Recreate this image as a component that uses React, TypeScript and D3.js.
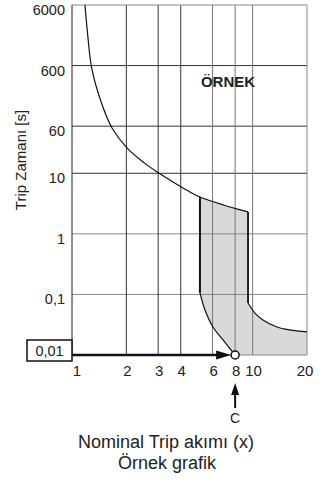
import React from "react";
import * as d3 from "d3";

const xTicks = [1, 2, 3, 4, 6, 8, 10, 20];
const xTickLabels = ["1", "2", "3", "4", "6", "8", "10", "20"];
const yTicks = [6000, 600, 60, 10, 1, 0.1, 0.01];
const yTickLabels = ["6000", "600", "60", "10", "1", "0,1", "0,01"];

// main (upper) trip curve
const mainX = [1.18, 1.22, 1.285, 1.45, 1.665, 2.02, 2.5, 2.96, 3.27, 3.86, 4.5, 5.11, 6.9, 9.43];
const mainT = [6000, 2000, 550, 150, 56, 26, 15, 10.5, 8.7, 6.4, 4.9, 4.06, 3.0, 2.3];

// lower-left (minimum) boundary of the band
const minX = [5.11, 5.11, 5.45, 6.03, 6.86, 8];
const minT = [4.06, 0.106, 0.0553, 0.029, 0.0177, 0.01];

// right (maximum) boundary of the band
const maxX = [9.43, 9.43, 10.3, 11.4, 13.65, 16.1, 20];
const maxT = [2.3, 0.0722, 0.0493, 0.0378, 0.029, 0.0259, 0.024];

const markX = 8;
const markT = 0.01;

const W = 331;
const H = 482;
const FONT = "'Liberation Sans', Arial, Helvetica, sans-serif";

export default function App() {
  const x = d3.scaleLog().domain([1, 20]).range([72, 307]);
  const y = d3.scaleLog().domain([0.01, 6000]).range([355, 5]);

  const pts = (xs: number[], ts: number[]) => xs.map((v, i) => [x(v), y(ts[i])] as [number, number]);
  const smooth = d3.line().curve(d3.curveCatmullRom.alpha(0.5));
  const straight = d3.line();

  const main = pts(mainX, mainT);
  const minPts = pts(minX, minT);
  const maxPts = pts(maxX, maxT);

  const topSeg = main.filter((p) => p[0] >= x(minX[0]) - 0.01);
  const minCurve = minPts.slice(1);
  const maxCurve = maxPts.slice(1);

  const asL = (s: string | null) => (s || "").replace(/^M/, "L");
  const x0 = x(1), x1 = x(20), yb = y(0.01), yt = y(6000);
  const bandPath =
    (smooth(topSeg) || "") +
    asL(straight([maxPts[0], maxPts[1]])) +
    asL(smooth(maxCurve)) +
    asL(straight([[x1, yb], [x(markX), yb]])) +
    asL(smooth([...minCurve].reverse())) +
    "Z";

  const cx = x(markX);
  const cy = y(markT);
  const r = 4;

  const vColor = (v: number) => (v >= 6 ? "#777" : "#333");
  const hColor = (v: number) => (v <= 1 ? "#888" : "#333");

  return (
    <svg width={W} height={H} style={{ position: "absolute", left: 0, top: 0, display: "block", background: "#fff" }} fontFamily={FONT}>
      {/* shaded band */}
      <path d={bandPath} fill="#d9d9d9" stroke="none" />

      {/* grid */}
      {yTicks.slice(1, -1).map((v) => (
        <line key={"h" + v} x1={x0} x2={x1} y1={y(v)} y2={y(v)} stroke={hColor(v)} strokeWidth={1} />
      ))}
      {xTicks.slice(1, -1).map((v) => (
        <line key={"v" + v} x1={x(v)} x2={x(v)} y1={yt} y2={yb} stroke={vColor(v)} strokeWidth={1} />
      ))}
      {/* frame */}
      <line x1={x0} x2={x1} y1={yt} y2={yt} stroke="#888" strokeWidth={1} />
      <line x1={x1} x2={x1} y1={yt} y2={yb} stroke="#888" strokeWidth={1} />
      <line x1={x0} x2={x1} y1={yb} y2={yb} stroke="#888" strokeWidth={1} />
      <line x1={x0} x2={x0} y1={yt} y2={yb} stroke="#222" strokeWidth={1} />

      {/* curves */}
      <path d={smooth(main) || ""} fill="none" stroke="#111" strokeWidth={1.2} />
      <path d={straight([minPts[0], minPts[1]]) || ""} fill="none" stroke="#111" strokeWidth={2} />
      <path d={smooth(minCurve) || ""} fill="none" stroke="#111" strokeWidth={1.2} />
      <path d={straight([maxPts[0], maxPts[1]]) || ""} fill="none" stroke="#111" strokeWidth={1.8} />
      <path d={smooth(maxCurve) || ""} fill="none" stroke="#111" strokeWidth={1.2} />

      {/* horizontal arrow to mark */}
      <line x1={x0} x2={cx - r - 12} y1={cy} y2={cy} stroke="#111" strokeWidth={2.5} />
      <polygon points={`${cx - r},${cy} ${cx - r - 15},${cy - 4.5} ${cx - r - 15},${cy + 4.5}`} fill="#111" />
      <circle cx={cx} cy={cy} r={r} fill="#fff" stroke="#111" strokeWidth={1.5} />

      {/* y tick labels */}
      {yTicks.slice(0, -1).map((v, i) => (
        <text key={"yl" + v} x={65} y={y(v) + 10} textAnchor="end" fontSize={14.5} fill="#222">
          {yTickLabels[i]}
        </text>
      ))}
      <rect x={27} y={340} width={x0 - 27} height={21} fill="#fff" stroke="#111" strokeWidth={1.5} />
      <text x={(27 + x0) / 2} y={355.5} textAnchor="middle" fontSize={14.5} fill="#222">
        {yTickLabels[yTickLabels.length - 1]}
      </text>

      {/* x tick labels */}
      {xTicks.map((v, i) => (
        <text key={"xl" + v} x={x(v) + (i === 0 ? 5 : i === xTicks.length - 1 ? -2 : 1)} y={376} textAnchor="middle" fontSize={15} fill="#222">
          {xTickLabels[i]}
        </text>
      ))}

      {/* vertical arrow C */}
      <line x1={cx} x2={cx} y1={408} y2={394} stroke="#111" strokeWidth={2} />
      <polygon points={`${cx},${383} ${cx - 4},${395} ${cx + 4},${395}`} fill="#111" />
      <text x={cx} y={423} textAnchor="middle" fontSize={14} fill="#222">C</text>

      {/* annotation */}
      <text x={228} y={87} textAnchor="middle" fontSize={15} fontWeight="bold" fill="#222">ÖRNEK</text>

      {/* axis titles */}
      <text transform="translate(26,160) rotate(-90)" textAnchor="middle" fontSize={15} fill="#222">Trip Zamanı [s]</text>
      <text x={166} y={448} textAnchor="middle" fontSize={18} fill="#222">Nominal Trip akımı (x)</text>
      <text x={167} y={469} textAnchor="middle" fontSize={18} fill="#222">Örnek grafik</text>
    </svg>
  );
}
